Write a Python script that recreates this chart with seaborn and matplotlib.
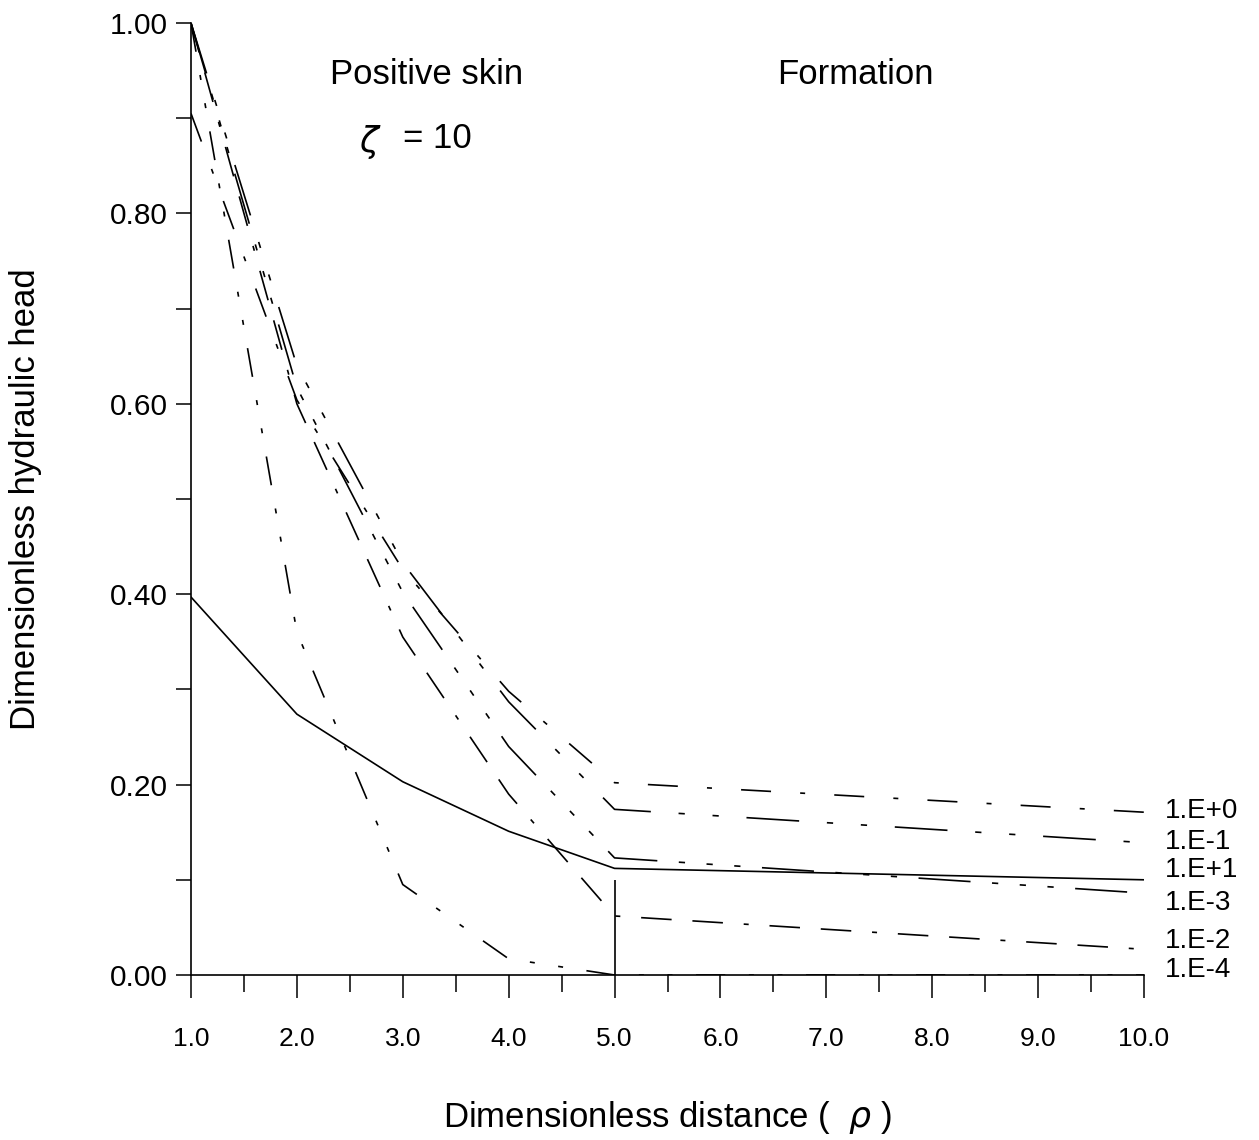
import matplotlib
matplotlib.use("Agg")
import matplotlib.pyplot as plt
import seaborn as sns
import pandas as pd
from matplotlib.ticker import MultipleLocator, FormatStrFormatter

# dimensionless distance (well face at 1, skin/formation boundary at 5)
rho = [1.0, 2.0, 3.0, 4.0, 5.0, 10.0]

# dimensionless head profiles for each dimensionless time
times = ["1.E+1", "1.E+0", "1.E-1", "1.E-2", "1.E-3", "1.E-4"]
h_1e1 = [0.397, 0.274, 0.203, 0.151, 0.112, 0.100]
h_1e0 = [0.905, 0.604, 0.426, 0.298, 0.202, 0.171]
h_1em1 = [1.000, 0.640, 0.433, 0.287, 0.174, 0.139]
h_1em2 = [1.000, 0.600, 0.355, 0.190, 0.062, 0.027]
h_1em3 = [1.000, 0.617, 0.402, 0.240, 0.123, 0.086]
h_1em4 = [1.000, 0.360, 0.095, 0.017, 0.000, 0.000]

# curve labels at the right edge, top to bottom
end_labels = ["1.E+0", "1.E-1", "1.E+1", "1.E-3", "1.E-2", "1.E-4"]

profiles = [h_1e1, h_1e0, h_1em1, h_1em2, h_1em3, h_1em4]
df = pd.concat(
    [pd.DataFrame({"rho": rho, "head": h, "time": t}) for t, h in zip(times, profiles)],
    ignore_index=True,
)

sns.set_theme(style="white")
plt.rcParams["font.family"] = ["Liberation Sans", "DejaVu Sans"]
plt.rcParams["lines.scale_dashes"] = False
for key in ("text.color", "axes.labelcolor", "xtick.color", "ytick.color"):
    plt.rcParams[key] = "black"

fig = plt.figure(figsize=(12.59, 11.40), dpi=100)
ax = fig.add_axes([191 / 1259, 1 - 975 / 1140, (1144 - 191) / 1259, (975 - 23) / 1140])

dash_styles = {
    "1.E+1": "",
    "1.E+0": (21.6, 21.0, 3.6, 21.0),
    "1.E-1": (38.0, 20.0, 4.5, 20.0, 4.5, 20.0),
    "1.E-2": (22.0, 15.0, 22.0, 15.0, 3.6, 15.0),
    "1.E-3": (37.5, 15.5, 4.5, 15.5, 4.5, 15.5, 4.5, 15.5),
    "1.E-4": (21.0, 17.0, 3.6, 17.0, 3.6, 17.0),
}

sns.lineplot(
    data=df, x="rho", y="head", style="time", dashes=dash_styles,
    color="black", linewidth=1.2, estimator=None, sort=False,
    legend=False, ax=ax,
)

# boundary between skin zone and formation
ax.vlines(5.0, 0.0, 0.10, color="black", linewidth=1.2)

ax.set_xlim(1.0, 10.0)
ax.set_ylim(0.0, 1.0)
for side in ("top", "right"):
    ax.spines[side].set_visible(False)
for side in ("left", "bottom"):
    ax.spines[side].set_color("black")
    ax.spines[side].set_linewidth(1.2)

ax.xaxis.set_major_locator(MultipleLocator(1.0))
ax.xaxis.set_minor_locator(MultipleLocator(0.5))
ax.xaxis.set_major_formatter(FormatStrFormatter("%.1f"))
ax.yaxis.set_major_locator(MultipleLocator(0.2))
ax.yaxis.set_minor_locator(MultipleLocator(0.1))
ax.yaxis.set_major_formatter(FormatStrFormatter("%.2f"))

ax.tick_params(axis="x", which="major", direction="out", length=16.5, width=1.1,
               pad=21, labelsize=19, bottom=True)
ax.tick_params(axis="x", which="minor", direction="out", length=12, width=1.1, bottom=True)
ax.tick_params(axis="y", which="both", direction="out", length=11, width=1.1,
               left=True)
ax.tick_params(axis="y", which="major", pad=6, labelsize=21.5)
ax.grid(False)

ax.set_xlabel(r"Dimensionless distance (  $\rho$ )", fontsize=25)
ax.set_ylabel("Dimensionless hydraulic head", fontsize=25)
ax.xaxis.set_label_coords(0.5, -0.130)
ax.yaxis.set_label_coords(-0.156, 0.5)

ax.text(3.22, 0.946, "Positive skin", fontsize=25, ha="center", va="center")
ax.text(7.27, 0.946, "Formation", fontsize=25, ha="center", va="center")
ax.text(2.69, 0.875, r"$\zeta$", fontsize=25, ha="center", va="center")
ax.text(3.33, 0.879, "= 10", fontsize=25, ha="center", va="center")

label_y = [0.172, 0.140, 0.110, 0.076, 0.036, 0.005]
for lab, yy in zip(end_labels, label_y):
    ax.text(10.2, yy, lab, fontsize=20, ha="left", va="center", clip_on=False)

fig.savefig("out.png", dpi=100, facecolor="white")
